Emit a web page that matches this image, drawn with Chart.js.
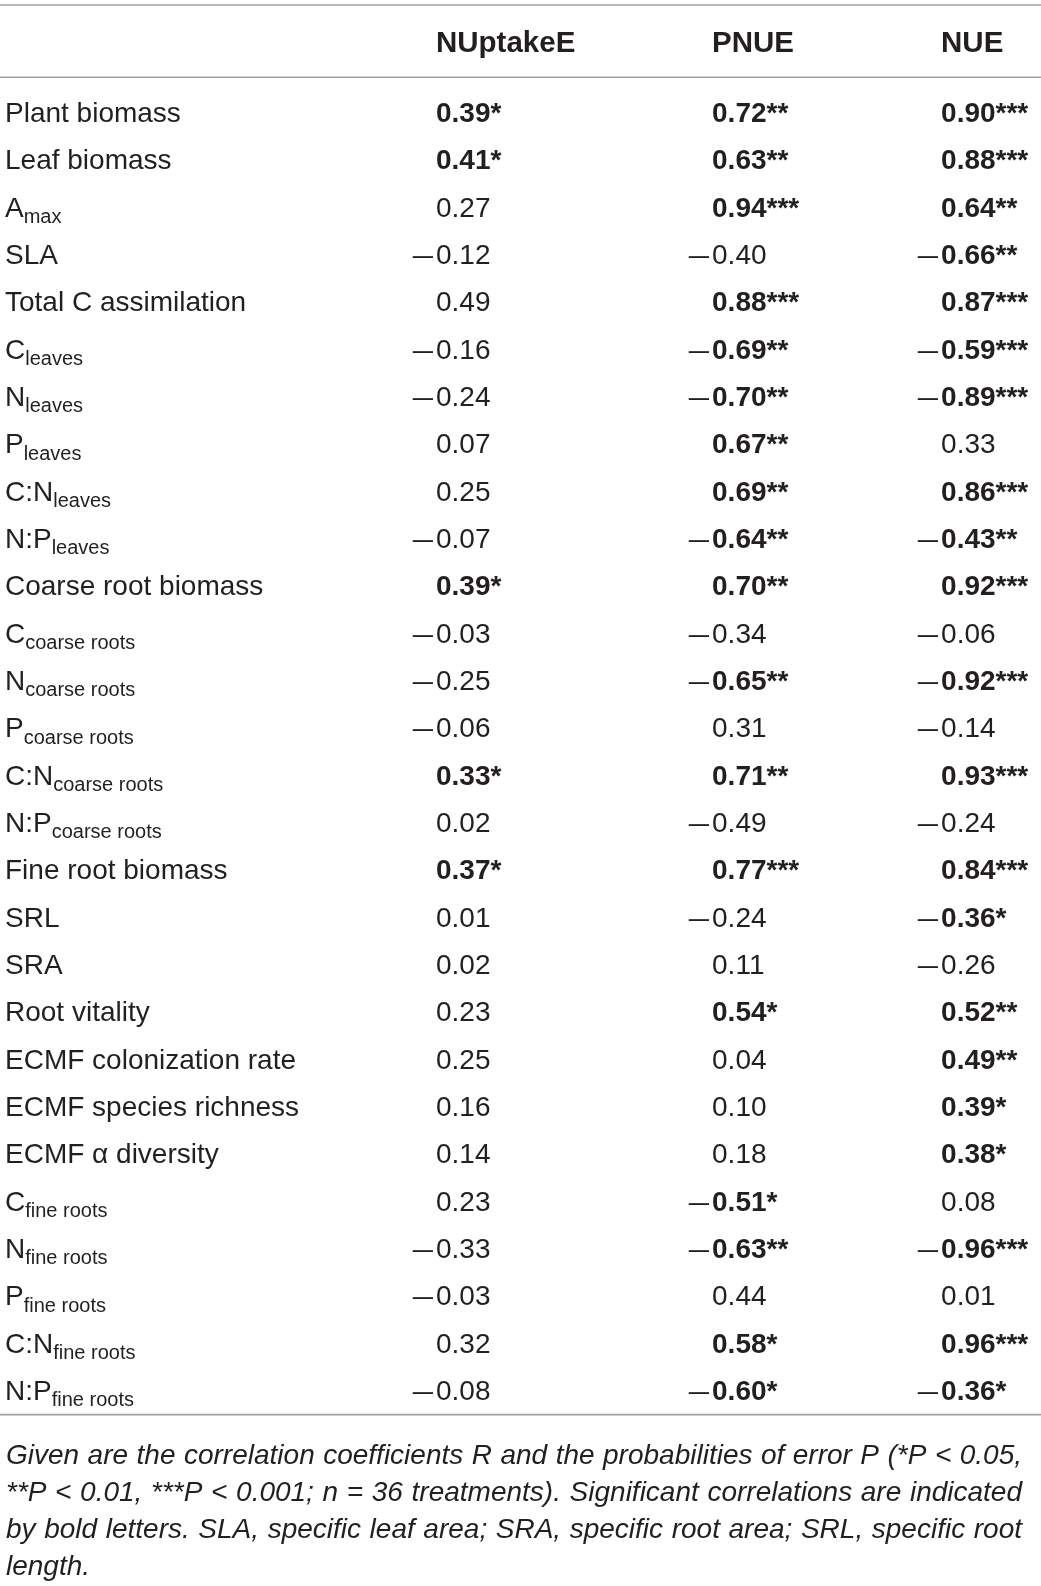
<!DOCTYPE html>
<html>
<head>
<meta charset="utf-8">
<script src="https://cdn.jsdelivr.net/npm/chart.js@4.4.1/dist/chart.umd.min.js"></script>
<style>
  html, body { margin: 0; padding: 0; background: #ffffff; }
  #wrap { width: 1041px; height: 1586px; }
</style>
</head>
<body>
<div id="wrap"><canvas id="c" width="1041" height="1586"></canvas></div>
<script>
// ---------- DATA ----------
const COLUMNS = ['NUptakeE', 'PNUE', 'NUE'];

const ROW_MAIN = [
  'Plant biomass', 'Leaf biomass', 'A', 'SLA', 'Total C assimilation',
  'C', 'N', 'P', 'C:N', 'N:P',
  'Coarse root biomass', 'C', 'N', 'P', 'C:N', 'N:P',
  'Fine root biomass', 'SRL', 'SRA', 'Root vitality',
  'ECMF colonization rate', 'ECMF species richness', 'ECMF \u03b1 diversity',
  'C', 'N', 'P', 'C:N', 'N:P'
];
const ROW_SUB = [
  '', '', 'max', '', '',
  'leaves', 'leaves', 'leaves', 'leaves', 'leaves',
  '', 'coarse roots', 'coarse roots', 'coarse roots', 'coarse roots', 'coarse roots',
  '', '', '', '',
  '', '', '',
  'fine roots', 'fine roots', 'fine roots', 'fine roots', 'fine roots'
];

const NUPTAKEE = [0.39, 0.41, 0.27, -0.12, 0.49, -0.16, -0.24, 0.07, 0.25, -0.07,
  0.39, -0.03, -0.25, -0.06, 0.33, 0.02, 0.37, 0.01, 0.02, 0.23,
  0.25, 0.16, 0.14, 0.23, -0.33, -0.03, 0.32, -0.08];
const NUPTAKEE_SIG = ['*', '*', '', '', '', '', '', '', '', '',
  '*', '', '', '', '*', '', '*', '', '', '',
  '', '', '', '', '', '', '', ''];

const PNUE = [0.72, 0.63, 0.94, -0.40, 0.88, -0.69, -0.70, 0.67, 0.69, -0.64,
  0.70, -0.34, -0.65, 0.31, 0.71, -0.49, 0.77, -0.24, 0.11, 0.54,
  0.04, 0.10, 0.18, -0.51, -0.63, 0.44, 0.58, -0.60];
const PNUE_SIG = ['**', '**', '***', '', '***', '**', '**', '**', '**', '**',
  '**', '', '**', '', '**', '', '***', '', '', '*',
  '', '', '', '*', '**', '', '*', '*'];

const NUE = [0.90, 0.88, 0.64, -0.66, 0.87, -0.59, -0.89, 0.33, 0.86, -0.43,
  0.92, -0.06, -0.92, -0.14, 0.93, -0.24, 0.84, -0.36, -0.26, 0.52,
  0.49, 0.39, 0.38, 0.08, -0.96, 0.01, 0.96, -0.36];
const NUE_SIG = ['***', '***', '**', '**', '***', '***', '***', '', '***', '**',
  '***', '', '***', '', '***', '', '***', '*', '', '**',
  '**', '*', '*', '', '***', '', '***', '*'];

const FOOTNOTE = [
  'Given are the correlation coefficients R and the probabilities of error P (*P < 0.05,',
  '**P < 0.01, ***P < 0.001; n = 36 treatments). Significant correlations are indicated',
  'by bold letters. SLA, specific leaf area; SRA, specific root area; SRL, specific root',
  'length.'
];

// ---------- LAYOUT / STYLE ----------
const ROW_KEYS = ROW_MAIN.map((m, i) => ROW_SUB[i] ? m + ' ' + ROW_SUB[i] : m);
const COL_X = [0.0048, 0.4188, 0.684, 0.904];   // fraction of table width (column anchors)
const TEXT = '#231f20';
const RULE = '#a0a0a0';
const FONT = '"Liberation Sans", Arial, Helvetica, sans-serif';
const SIZE = 28, SUB_SIZE = 20, HEAD_SIZE = 29.5, NOTE_SIZE = 28;

const SERIES = [
  { vals: NUPTAKEE, sig: NUPTAKEE_SIG },
  { vals: PNUE, sig: PNUE_SIG },
  { vals: NUE, sig: NUE_SIG }
];

const datasets = [
  { label: 'rows', data: ROW_KEYS.map(k => ({ x: COL_X[0], y: k })) }
].concat(SERIES.map((s, c) => ({
  label: COLUMNS[c],
  data: s.vals.map((v, i) => ({ x: COL_X[c + 1], y: ROW_KEYS[i] }))
})));

function drawJustified(ctx, text, x, y, width, justify) {
  const words = text.split(' ');
  const widths = words.map(w => ctx.measureText(w).width);
  const total = widths.reduce((a, b) => a + b, 0);
  const space = ctx.measureText(' ').width;
  let gap = space, sx = 1;
  if (justify && words.length > 1) {
    gap = (width - total) / (words.length - 1);
    if (gap < space * 0.7) {
      gap = space * 0.7;
      sx = width / (total + gap * (words.length - 1));
    }
  }
  ctx.save();
  ctx.translate(x, y);
  ctx.scale(sx, 1);
  let cx = 0;
  words.forEach((w, i) => {
    ctx.fillText(w, cx, 0);
    cx += widths[i] + gap;
  });
  ctx.restore();
}

const tablePlugin = {
  id: 'tablePlugin',
  beforeDraw(chart) {
    const ctx = chart.ctx;
    ctx.save();
    ctx.fillStyle = '#ffffff';
    ctx.fillRect(0, 0, chart.width, chart.height);
    ctx.restore();
  },
  afterDatasetsDraw(chart) {
    const ctx = chart.ctx;
    const area = chart.chartArea;
    const xs = chart.scales.x;
    ctx.save();
    ctx.fillStyle = TEXT;
    ctx.textBaseline = 'alphabetic';

    // rules
    ctx.strokeStyle = RULE;
    ctx.lineWidth = 1.6;
    [5, area.top - 11, area.bottom + 1].forEach(yy => {
      ctx.beginPath();
      ctx.moveTo(0, yy);
      ctx.lineTo(chart.width, yy);
      ctx.stroke();
    });

    // header
    ctx.font = 'bold ' + HEAD_SIZE + 'px ' + FONT;
    ctx.textAlign = 'left';
    COLUMNS.forEach((c, i) => {
      ctx.fillText(c, xs.getPixelForValue(COL_X[i + 1]), area.top - 36);
    });

    // row labels
    const lab = chart.getDatasetMeta(0).data;
    lab.forEach((pt, i) => {
      const base = pt.y + 10;
      ctx.font = SIZE + 'px ' + FONT;
      ctx.textAlign = 'left';
      ctx.fillText(ROW_MAIN[i], pt.x, base);
      if (ROW_SUB[i]) {
        const w = ctx.measureText(ROW_MAIN[i]).width;
        ctx.font = SUB_SIZE + 'px ' + FONT;
        ctx.fillText(ROW_SUB[i], pt.x + w, base + 6.5);
      }
    });

    // values
    SERIES.forEach((s, c) => {
      const pts = chart.getDatasetMeta(c + 1).data;
      pts.forEach((pt, i) => {
        const v = s.vals[i];
        const bold = s.sig[i] !== '';
        const base = pt.y + 10;
        ctx.font = (bold ? 'bold ' : '') + SIZE + 'px ' + FONT;
        ctx.textAlign = 'left';
        ctx.fillText(Math.abs(v).toFixed(2) + s.sig[i], pt.x, base);
        if (v < 0) {
          ctx.save();
          ctx.font = SIZE + 'px ' + FONT;
          ctx.translate(pt.x - 3, base);
          ctx.scale(1.3, 1);
          ctx.textAlign = 'right';
          ctx.fillText('\u2013', 0, 0);
          ctx.restore();
        }
      });
    });

    // footnote
    ctx.font = 'italic ' + NOTE_SIZE + 'px ' + FONT;
    ctx.textAlign = 'left';
    FOOTNOTE.forEach((line, i) => {
      drawJustified(ctx, line, 6, area.bottom + 50 + i * 37, 1016, i < FOOTNOTE.length - 1);
    });
    ctx.restore();
  }
};

new Chart(document.getElementById('c'), {
  type: 'scatter',
  data: { datasets },
  options: {
    responsive: false,
    animation: false,
    devicePixelRatio: 1,
    layout: { padding: { top: 88.3, bottom: 172.4, left: 0, right: 0 } },
    elements: { point: { radius: 0, hoverRadius: 0 } },
    scales: {
      x: { type: 'linear', min: 0, max: 1, display: false },
      y: { type: 'category', labels: ROW_KEYS, offset: true, display: false }
    },
    plugins: { legend: { display: false }, tooltip: { enabled: false }, title: { display: false } }
  },
  plugins: [tablePlugin]
});
</script>
</body>
</html>
